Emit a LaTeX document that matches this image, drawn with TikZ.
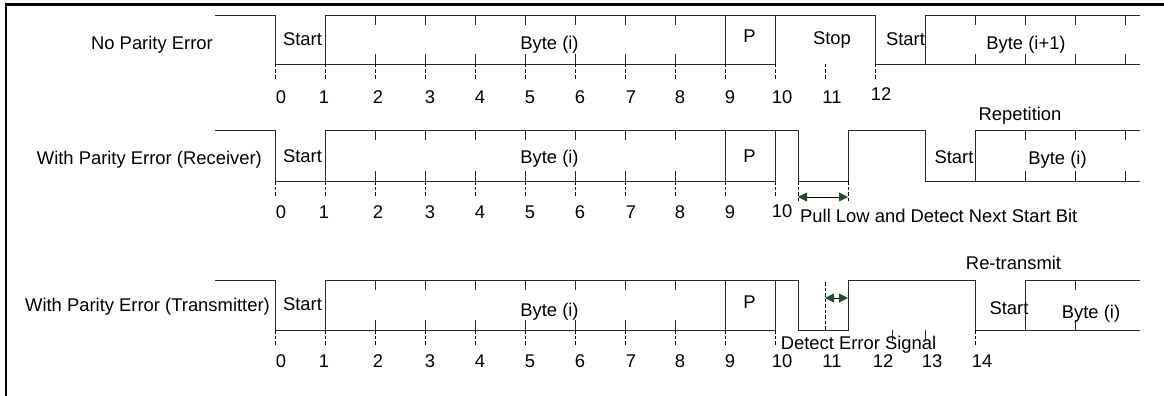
\documentclass[tikz,border=0pt]{standalone}
\usepackage{fontspec}
\setmainfont{Liberation Sans}
\usetikzlibrary{arrows.meta}
\definecolor{arrgreen}{RGB}{30,80,45}
\definecolor{sig}{RGB}{40,40,40}
\tikzset{
  lbl/.style={inner sep=0pt, font=\fontsize{18.4}{22}\selectfont, anchor=base},
  wave/.style={draw=sig, line width=0.9pt, line join=miter},
  dsh/.style={draw=black, line width=1pt, dash pattern=on 3.5pt off 2pt},
  frame/.style={draw=black, line width=2.4pt},
  dbl/.style={line width=0.9pt, draw=black, {Triangle[length=9pt,width=9pt,color=arrgreen]}-{Triangle[length=9pt,width=9pt,color=arrgreen]}}
}
\begin{document}
\begin{tikzpicture}[x=1pt,y=-1pt]
\useasboundingbox (0,0) rectangle (1164,396);
% frame
\draw[frame] (6,396) -- (6,4.5) -- (1164,4.5);

% ---------------- Row 1 ----------------
\draw[wave] (215,15) -- (275,15) -- (275,64) -- (775,64) -- (775,15);
\draw[wave] (325,64) -- (325,15) -- (875,15) -- (875,64) -- (1140,64);
\draw[wave] (725,15) -- (725,64);
\draw[wave] (925,64) -- (925,15) -- (1140,15);
\foreach \x in {375,425,...,675,975,1025,1075,1125} {
  \draw[wave] (\x,15) -- (\x,25);
  \draw[wave] (\x,54) -- (\x,64);
}
\foreach \x in {275,325,...,775,825,875} \draw[dsh] (\x,64) -- (\x,80);

\node[lbl, anchor=base east] (r1) at (213,50) {No Parity Error};
\node[lbl] (r1s) at (302.5,46) {Start};
\node[lbl] (r1b) at (549.5,49) {Byte (i)};
\node[lbl] (r1p) at (749.5,43) {P};
\node[lbl] (r1stop) at (832,45) {Stop};
\node[lbl] (r1s2) at (905.5,46) {Start};
\node[lbl] (r1b2) at (1026,50) {Byte (i+1)};
\foreach \n/\x in {0/281,1/324,2/378,3/430,4/480,5/530,6/580,7/631,8/680,9/730,10/782,11/832}
  \node[lbl] (r1n\n) at (\x,103) {\n};
\node[lbl] (r1n12) at (881,100) {12};
\node[lbl] (rep) at (1020,120) {Repetition};

% ---------------- Row 2 ----------------
\draw[wave] (215,130) -- (275,130) -- (275,181) -- (775,181) -- (775,130);
\draw[wave] (325,181) -- (325,130) -- (798,130) -- (798,181) -- (848,181) -- (848,130) -- (925,130) -- (925,181) -- (1140,181);
\draw[wave] (725,130) -- (725,181);
\draw[wave] (975,181) -- (975,130) -- (1140,130);
\foreach \x in {375,425,...,675,1025,1075,1125} {
  \draw[wave] (\x,130) -- (\x,140);
  \draw[wave] (\x,171) -- (\x,181);
}
\foreach \x in {275,325,...,775} \draw[dsh] (\x,181) -- (\x,197);
\draw[dsh] (798,181) -- (798,202);
\draw[dsh] (848,181) -- (848,202);
\coordinate (a2l) at (798,197);
\coordinate (a2r) at (848,197);
\draw[dbl] (a2l) -- (a2r);

\node[lbl, anchor=base east] (r2) at (262,164) {With Parity Error (Receiver)};
\node[lbl] (r2s) at (302.5,162.5) {Start};
\node[lbl] (r2b) at (549.5,163) {Byte (i)};
\node[lbl] (r2p) at (749.5,162) {P};
\node[lbl] (r2s2) at (954,163) {Start};
\node[lbl] (r2b2) at (1057.5,164) {Byte (i)};
\foreach \n/\x in {0/281,1/324,2/378,3/430,4/480,5/530,6/580,7/631,8/680,9/730}
  \node[lbl] (r2n\n) at (\x,218) {\n};
\node[lbl] (r2n10) at (782,217) {10};
\node[lbl, anchor=base west] (pull) at (800,222) {Pull Low and Detect Next Start Bit};
\node[lbl] (retx) at (1013.5,269) {Re-transmit};

% ---------------- Row 3 ----------------
\draw[wave] (215,280) -- (275,280) -- (275,330) -- (775,330) -- (775,280);
\draw[wave] (325,330) -- (325,280) -- (798,280) -- (798,330) -- (848,330) -- (848,280) -- (975,280) -- (975,330) -- (1140,330);
\draw[wave] (725,280) -- (725,330);
\draw[wave] (1025,330) -- (1025,280) -- (1140,280);
\foreach \x in {375,425,...,675,1075} {
  \draw[wave] (\x,280) -- (\x,290);
  \draw[wave] (\x,320) -- (\x,330);
}
\foreach \x in {275,325,...,775,975} \draw[dsh] (\x,330) -- (\x,346);
\draw[dsh] (825,282) -- (825,330);
\draw[wave] (892,330) -- (892,341);
\draw[wave] (925,330) -- (925,341);
\coordinate (a3l) at (825,298);
\coordinate (a3r) at (848,298);
\draw[dbl] (a3l) -- (a3r);

\node[lbl, anchor=base east] (r3) at (270,311.5) {With Parity Error (Transmitter)};
\node[lbl] (r3s) at (302.5,310) {Start};
\node[lbl] (r3b) at (549.5,316) {Byte (i)};
\node[lbl] (r3p) at (749.5,308) {P};
\node[lbl] (r3s2) at (1009,314) {Start};
\node[lbl] (r3b2) at (1091,318) {Byte (i)};
\node[lbl] (det) at (858.5,349) {Detect Error Signal};
\foreach \n/\x in {0/281,1/324,2/378,3/430,4/480,5/530,6/580,7/631,8/680,9/730,10/782,11/832,12/883,13/932,14/982}
  \node[lbl] (r3n\n) at (\x,367) {\n};
\end{tikzpicture}
\end{document}
